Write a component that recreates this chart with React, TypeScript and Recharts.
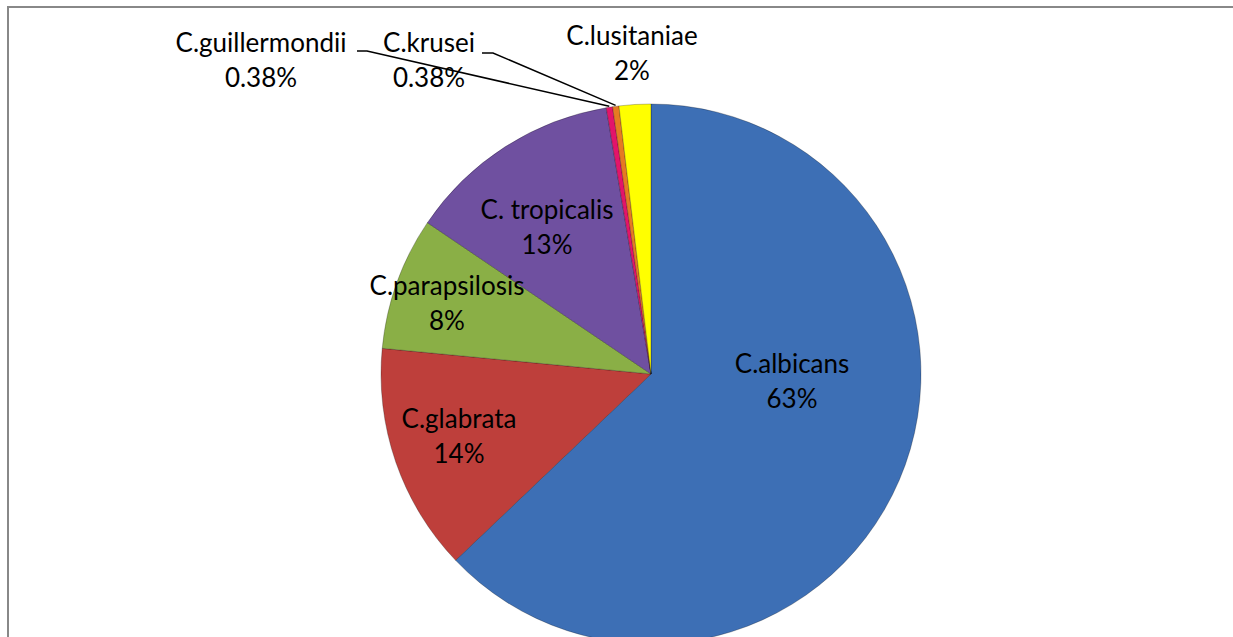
import React from 'react';
import { PieChart, Pie, Cell } from 'recharts';

const species = [
  'C.albicans',
  'C.glabrata',
  'C.parapsilosis',
  'C. tropicalis',
  'C.guillermondii',
  'C.krusei',
  'C.lusitaniae',
];
// isolate counts (they round to the printed shares)
const isolates = [166, 36, 21, 34, 1, 1, 5];
const shareLabels = ['63%', '14%', '8%', '13%', '0.38%', '0.38%', '2%'];

const COLORS = ['#3D6FB5', '#BE3F3B', '#8AAF46', '#6F50A0', '#E3146A', '#E67A22', '#FFFF00'];

const data = species.map((name, i) => ({ name, value: isolates[i], label: shareLabels[i] }));

// label anchor (centre x, first baseline) relative to pie centre
const LABEL_POS: [number, number][] = [
  [141, -1],
  [-192, 54],
  [-204, -79],
  [-104, -155],
  [-390, -322],
  [-222, -322],
  [-19, -329],
];
// leader line: tick start x, tick end x, y (relative to centre)
const LEADER: Record<number, [number, number, number]> = {
  4: [-294, -284, -323],
  5: [-169, -158, -321],
};

const RAD = Math.PI / 180;
const FONT = 'Lato, "Open Sans", sans-serif';

const renderLabel = (props: any) => {
  const { cx, cy, midAngle, outerRadius, index } = props;
  const [dx, dy] = LABEL_POS[index];
  const x = cx + dx;
  const y = cy + dy;
  const lead = LEADER[index];
  let line = null;
  if (lead) {
    const ex = cx + (outerRadius + 1) * Math.cos(-midAngle * RAD);
    const ey = cy + (outerRadius + 1) * Math.sin(-midAngle * RAD);
    line = (
      <polyline
        points={`${cx + lead[0]},${cy + lead[2]} ${cx + lead[1]},${cy + lead[2]} ${ex},${ey}`}
        fill="none"
        stroke="#000"
        strokeWidth={1.5}
      />
    );
  }
  return (
    <g key={`lbl-${index}`}>
      {line}
      <text x={x} y={y} textAnchor="middle" fill="#000" fontSize={26} fontFamily={FONT}>
        {data[index].name}
      </text>
      <text x={x} y={y + 35} textAnchor="middle" fill="#000" fontSize={26} fontFamily={FONT}>
        {data[index].label}
      </text>
    </g>
  );
};

export default function App() {
  return (
    <div style={{ position: 'fixed', left: 0, top: 0, width: 1233, height: 637, overflow: 'hidden', background: '#fff' }}>
      <div
        style={{
          position: 'absolute',
          left: 7,
          top: 6,
          width: 1300,
          height: 700,
          border: '2px solid #888',
          boxSizing: 'border-box',
        }}
      />
      <div style={{ position: 'absolute', left: 0, top: 0 }}>
        <PieChart width={1233} height={637} margin={{ top: 0, right: 0, bottom: 0, left: 0 }}>
          <Pie
            data={data}
            dataKey="value"
            cx={651}
            cy={374}
            outerRadius={270}
            startAngle={90}
            endAngle={-270}
            stroke="rgba(0,0,0,0.25)"
            strokeWidth={1}
            label={renderLabel}
            labelLine={false}
            isAnimationActive={false}
          >
            {data.map((entry, index) => (
              <Cell key={`cell-${index}`} fill={COLORS[index % COLORS.length]} />
            ))}
          </Pie>
        </PieChart>
      </div>
    </div>
  );
}
